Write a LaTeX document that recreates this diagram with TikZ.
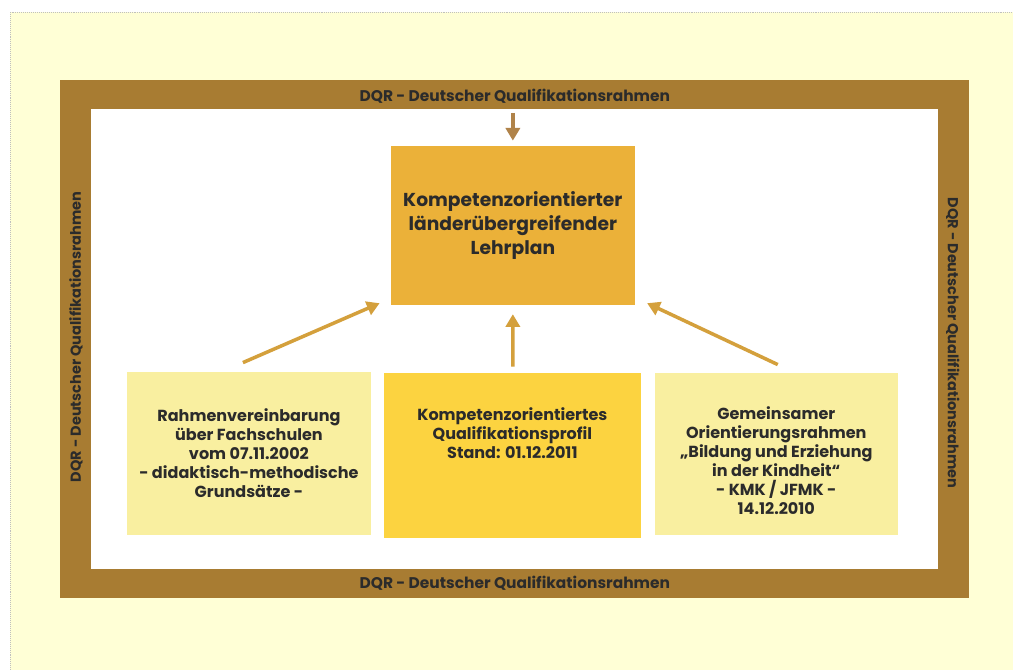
\documentclass[tikz,border=0pt]{standalone}
\usepackage{fontspec}
\setmainfont{Poppins}
\usepackage{tikz}
\usetikzlibrary{arrows.meta,calc}
\definecolor{cbg}{HTML}{FFFFD6}
\definecolor{cframe}{HTML}{A87C32}
\definecolor{cmain}{HTML}{EBB139}
\definecolor{cmid}{HTML}{FCD340}
\definecolor{cside}{HTML}{F9EFA0}
\definecolor{carrow}{HTML}{D4A03C}
\definecolor{ctop}{HTML}{B0834A}
\definecolor{ctext}{HTML}{2B2B2B}

\begin{document}
\begin{tikzpicture}[x=0.025cm,y=0.025cm,>={Triangle[length=9pt,width=10pt]},
  frame text/.style={font=\bfseries\fontsize{11}{13}\selectfont,text=ctext},
  main node/.style={fill=cmain,minimum width=6.1cm,minimum height=3.975cm,inner sep=0pt,
    align=center,text=ctext,font=\bfseries\fontsize{13.3}{17}\selectfont},
  others node/.style={fill=cside,minimum width=6.1cm,minimum height=4.075cm,inner sep=0pt,
    align=center,text=ctext,font=\bfseries\fontsize{11.4}{13.5}\selectfont},
  mid node/.style={fill=cmid,minimum width=6.425cm,minimum height=4.125cm,inner sep=0pt},
  box text/.style={align=center,text=ctext,font=\bfseries\fontsize{11.4}{13.5}\selectfont},
  arrow/.style={->,draw=carrow,fill=carrow,line width=2.5pt},
  top arrow/.style={->,draw=ctop,fill=ctop,line width=2.5pt}]
  % background and frame
  \fill[white] (0,0) rectangle (1013,670);
  \fill[cbg] (10,0) rectangle (1013,658);
  \draw[gray!50,densely dotted] (10,0) -- (10,658) -- (1013,658);
  \fill[cframe] (60,72) rectangle (969,590);
  \fill[white] (91,101) rectangle (938,561);
  \node[frame text] (t) at (515,574) {DQR - Deutscher Qualifikationsrahmen};
  \node[frame text] (b) at (515,87) {DQR - Deutscher Qualifikationsrahmen};
  \node[frame text,font=\bfseries\fontsize{10.3}{12}\selectfont,rotate=90] (l) at (76,333) {DQR - Deutscher Qualifikationsrahmen};
  \node[frame text,font=\bfseries\fontsize{10.3}{12}\selectfont,rotate=-90] (r) at (953,327) {DQR - Deutscher Qualifikationsrahmen};

  \node[main node] (1) at (513,444.5) {Kompetenzorientierter\\länderübergreifender\\Lehrplan};
  \node[others node] (2) at (249,216.5) {Rahmenvereinbarung\\über Fachschulen\\vom 07.11.2002\\- didaktisch-methodische\\Grundsätze -};
  \node[mid node] (3) at (512.5,214.5) {};
  \node[box text] (3t) at (512.5,237) {Kompetenzorientiertes\\Qualifikationsprofil\\Stand: 01.12.2011};
  \node[others node,minimum width=6.075cm,minimum height=4.05cm] (4) at (776.5,216) {};
  \node[box text] (4t) at (776.5,209.5)
    {Gemeinsamer\\Orientierungsrahmen\\„Bildung und Erziehung\\in der Kindheit“\\- KMK / JFMK -\\14.12.2010};

  % arrows
  \coordinate (top) at (513,557);
  \draw[top arrow] (top) -- ($(1.north)+(0,5)$);
  \draw[arrow] ($(2.north)+(-6,9)$) -- ($(1.south west)+(-11,2)$);
  \draw[arrow] ($(3.north)+(0.5,6)$) -- ($(1.south)+(0,-9)$);
  \draw[arrow] ($(4.north)+(1.5,8)$) -- ($(1.south east)+(12,2)$);
\end{tikzpicture}
\end{document}
